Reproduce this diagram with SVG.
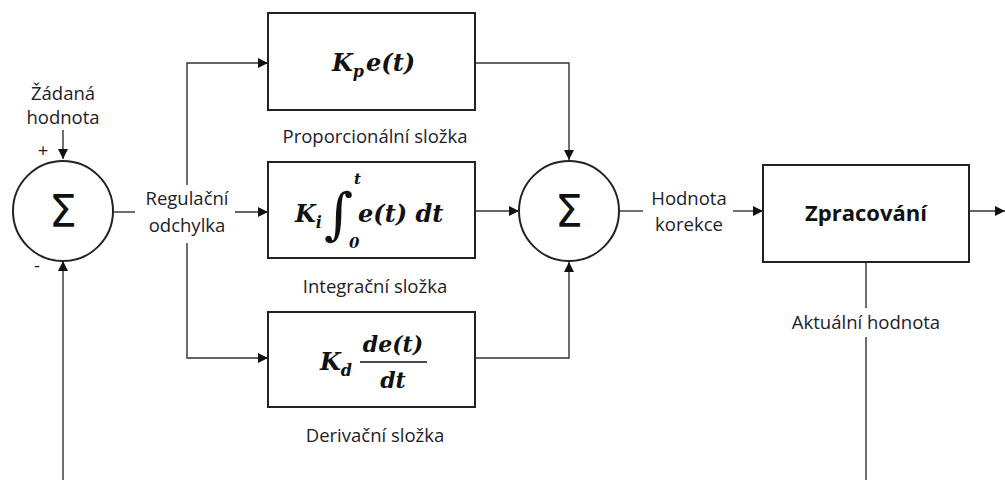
<svg xmlns="http://www.w3.org/2000/svg" width="1005" height="480" viewBox="0 0 1005 480">
<defs>
<marker id="arr" viewBox="0 0 10 10" refX="10" refY="5" markerWidth="10" markerHeight="10" markerUnits="userSpaceOnUse" orient="auto">
<path d="M0,0 L10,5 L0,10 z" fill="#111"/>
</marker>
</defs>
<style>
.box{fill:#fff;stroke:#222;stroke-width:2}
.circ{fill:#fff;stroke:#222;stroke-width:2}
.ln{fill:none;stroke:#333;stroke-width:1.4}
.lbl{font-family:"Open Sans",Lato,sans-serif;font-size:18.5px;fill:#1c1c2a;text-anchor:middle}
.sig{font-family:"DejaVu Sans",sans-serif;font-size:44px;fill:#111;text-anchor:middle}
.m{font-family:"DejaVu Serif","Liberation Serif",serif;font-weight:bold;font-style:italic;fill:#111}
.bold{font-family:"Open Sans",Lato,sans-serif;font-weight:bold;font-size:22px;fill:#111;text-anchor:middle}
</style>
<rect width="1005" height="480" fill="#fff"/>
<g id="connectors">
<path class="ln" d="M63,130 V159" marker-end="url(#arr)"/>
<path class="ln" d="M63,480 V261" marker-end="url(#arr)"/>
<path class="ln" d="M113,212 H135"/>
<path class="ln" d="M235,212 H268" marker-end="url(#arr)"/>
<path class="ln" d="M187,185 V63 H268" marker-end="url(#arr)"/>
<path class="ln" d="M187,243 V358 H268" marker-end="url(#arr)"/>
<path class="ln" d="M475,63 H569 V160" marker-end="url(#arr)"/>
<path class="ln" d="M475,211 H519" marker-end="url(#arr)"/>
<path class="ln" d="M475,358 H569 V262" marker-end="url(#arr)"/>
<path class="ln" d="M619,211 H643"/>
<path class="ln" d="M733,211 H763" marker-end="url(#arr)"/>
<path class="ln" d="M969,211 H1005" marker-end="url(#arr)"/>
<path class="ln" d="M866,262 V308"/>
<path class="ln" d="M866,337 V480"/>
</g>
<g id="setpoint">
<text class="lbl" x="63" y="100">Žádaná</text>
<text class="lbl" x="63" y="124">hodnota</text>
</g>
<g id="sum1">
<circle class="circ" cx="63" cy="211" r="50"/>
<text class="sig" x="63" y="227">Σ</text>
<text class="lbl" x="43" y="157">+</text>
<text class="lbl" x="37" y="272">-</text>
</g>
<g id="error">
<text class="lbl" x="187" y="205">Regulační</text>
<text class="lbl" x="187" y="232">odchylka</text>
</g>
<g id="pbox">
<rect class="box" x="268" y="13" width="207" height="97"/>
<text class="m" x="332" y="71" font-size="24">K<tspan font-size="16" dy="6">p</tspan><tspan dy="-6" dx="2">e(t)</tspan></text>
<text class="lbl" x="375" y="143">Proporcionální složka</text>
</g>
<g id="ibox">
<rect class="box" x="268" y="162" width="207" height="96"/>
<text class="m" x="295" y="222" font-size="24">K<tspan font-size="16" dy="6">i</tspan></text>
<text font-family="DejaVu Serif,serif" font-size="56" fill="#111" x="324" y="233">∫</text>
<text class="m" x="354" y="184" font-size="15">t</text>
<text class="m" x="349" y="248" font-size="15">0</text>
<text class="m" x="358" y="222" font-size="24">e(t) dt</text>
<text class="lbl" x="375" y="293">Integrační složka</text>
</g>
<g id="dbox">
<rect class="box" x="268" y="312" width="207" height="95"/>
<text class="m" x="320" y="370" font-size="24">K<tspan font-size="16" dy="6">d</tspan></text>
<line x1="360" y1="362" x2="427" y2="362" stroke="#111" stroke-width="1.5"/>
<text class="m" x="393" y="352" font-size="22" text-anchor="middle">de(t)</text>
<text class="m" x="393" y="388" font-size="22" text-anchor="middle">dt</text>
<text class="lbl" x="375" y="442">Derivační složka</text>
</g>
<g id="sum2">
<circle class="circ" cx="569" cy="211" r="50"/>
<text class="sig" x="569" y="227">Σ</text>
</g>
<g id="correction">
<text class="lbl" x="689" y="205">Hodnota</text>
<text class="lbl" x="689" y="231">korekce</text>
</g>
<g id="process">
<rect class="box" x="763" y="165" width="206" height="97"/>
<text class="bold" x="866" y="221">Zpracování</text>
</g>
<g id="actual">
<text class="lbl" x="866" y="329">Aktuální hodnota</text>
</g>
</svg>
